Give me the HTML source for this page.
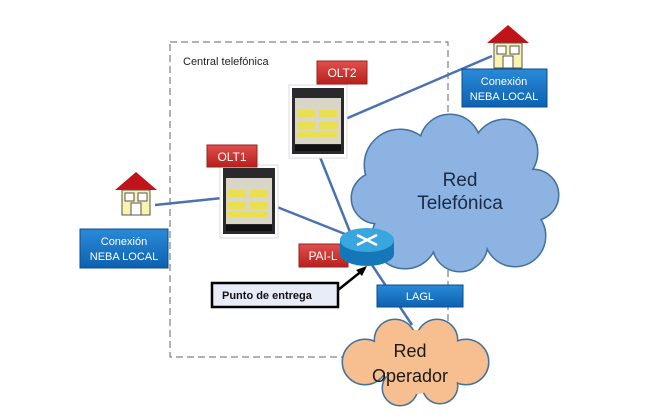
<!DOCTYPE html>
<html><head><meta charset="utf-8"><style>
html,body{margin:0;padding:0;background:#fff;}
svg{display:block;font-family:"Liberation Sans",sans-serif;}
</style></head><body>
<svg width="651" height="419" viewBox="0 0 651 419" xmlns="http://www.w3.org/2000/svg">
<defs>
<linearGradient id="red" x1="0" y1="0" x2="0" y2="1"><stop offset="0" stop-color="#e0504c"/><stop offset="1" stop-color="#b8201c"/></linearGradient>
<linearGradient id="blue" x1="0" y1="0" x2="0" y2="1"><stop offset="0" stop-color="#2a8ad8"/><stop offset="1" stop-color="#0d62b0"/></linearGradient>
<g id="olt">
<rect x="-3" y="-3" width="58" height="73" fill="#fff" stroke="#ddd"/>
<rect x="0" y="0" width="52" height="66" fill="#2a2a2e"/>
<rect x="3" y="10" width="46" height="46" fill="#d9d6c8"/>
<rect x="5" y="22" width="18" height="7" fill="#e8e050"/>
<rect x="27" y="22" width="18" height="7" fill="#e8e050"/>
<rect x="5" y="34" width="18" height="7" fill="#e8e050"/>
<rect x="27" y="34" width="18" height="7" fill="#e8e050"/>
<rect x="5" y="44" width="40" height="5" fill="#e8e050"/>
<rect x="3" y="57" width="46" height="6" fill="#111"/>
</g>
<g id="house">
<polygon points="0,18 21,0 42,18" fill="#c0141a"/>
<rect x="7" y="18" width="28" height="25" fill="#f8f4b0" stroke="#555"/>
<rect x="10" y="21" width="9" height="8" fill="#fff" stroke="#555"/>
<rect x="23" y="21" width="9" height="8" fill="#fff" stroke="#555"/>
<rect x="16" y="31" width="10" height="12" fill="#fff" stroke="#555"/>
</g>
</defs>

<rect x="170" y="42" width="278" height="315" fill="none" stroke="#666" stroke-dasharray="7,4" stroke-width="1"/>
<text x="183" y="65" font-size="11" fill="#222">Central telefónica</text>

<!-- clouds -->
<g fill="#8db3e2" stroke="#41719c" stroke-width="3">
<circle cx="400" cy="165" r="35"/><circle cx="450" cy="145" r="30"/><circle cx="505" cy="152" r="32"/><circle cx="533" cy="195" r="25"/><circle cx="515" cy="236" r="30"/><circle cx="460" cy="244" r="27"/><circle cx="405" cy="236" r="32"/><circle cx="377" cy="198" r="25"/>
</g>
<g fill="#8db3e2">
<circle cx="400" cy="165" r="35"/><circle cx="450" cy="145" r="30"/><circle cx="505" cy="152" r="32"/><circle cx="533" cy="195" r="25"/><circle cx="515" cy="236" r="30"/><circle cx="460" cy="244" r="27"/><circle cx="405" cy="236" r="32"/><circle cx="377" cy="198" r="25"/><circle cx="460" cy="195" r="55"/><circle cx="405" cy="200" r="32"/><circle cx="500" cy="200" r="40"/>
</g>
<text x="460" y="186" font-size="19" text-anchor="middle" fill="#1a2a44">Red</text>
<text x="460" y="209" font-size="19" text-anchor="middle" fill="#1a2a44">Telefónica</text>

<!-- lines -->
<g stroke="#4a72b0" stroke-width="2.5" fill="none">
<line x1="155" y1="205" x2="232" y2="197"/>
<line x1="272" y1="205" x2="350" y2="236"/>
<line x1="318" y1="152" x2="350" y2="232"/>
<line x1="343" y1="120" x2="492" y2="56"/>
<line x1="370" y1="262" x2="412" y2="325"/>
</g>

<g fill="#f7bf8f" stroke="#41719c" stroke-width="3">
<circle cx="365" cy="362" r="22"/><circle cx="395" cy="340" r="20"/><circle cx="437" cy="340" r="20"/><circle cx="466" cy="362" r="22"/><circle cx="440" cy="386" r="17"/><circle cx="400" cy="388" r="17"/>
</g>
<g fill="#f7bf8f">
<circle cx="365" cy="362" r="22"/><circle cx="395" cy="340" r="20"/><circle cx="437" cy="340" r="20"/><circle cx="466" cy="362" r="22"/><circle cx="440" cy="386" r="17"/><circle cx="400" cy="388" r="17"/><circle cx="415" cy="362" r="32"/>
</g>
<text x="410" y="357" font-size="18" text-anchor="middle" fill="#1a1a1a">Red</text>
<text x="410" y="382" font-size="18" text-anchor="middle" fill="#1a1a1a">Operador</text>

<use href="#olt" x="292" y="88"/>
<use href="#olt" x="223" y="168"/>
<use href="#house" x="115" y="172"/>
<use href="#house" x="487" y="25"/>

<rect x="317" y="61" width="50" height="23" fill="url(#red)" stroke="#922"/>
<text x="342" y="77" font-size="12" fill="#fff" text-anchor="middle">OLT2</text>
<rect x="207" y="145" width="50" height="22" fill="url(#red)" stroke="#922"/>
<text x="232" y="161" font-size="12" fill="#fff" text-anchor="middle">OLT1</text>
<rect x="299" y="244" width="49" height="23" fill="url(#red)" stroke="#922"/>
<text x="323" y="260" font-size="12" fill="#fff" text-anchor="middle">PAI-L</text>

<rect x="80" y="229" width="88" height="39" fill="url(#blue)" stroke="#0a4d8a"/>
<text x="124" y="245" font-size="11" fill="#fff" text-anchor="middle">Conexión</text>
<text x="124" y="260" font-size="11" fill="#fff" text-anchor="middle">NEBA LOCAL</text>
<rect x="462" y="69" width="85" height="38" fill="url(#blue)" stroke="#0a4d8a"/>
<text x="504" y="85" font-size="11" fill="#fff" text-anchor="middle">Conexión</text>
<text x="504" y="100" font-size="11" fill="#fff" text-anchor="middle">NEBA LOCAL</text>
<rect x="377" y="285" width="86" height="22" fill="url(#blue)" stroke="#0a4d8a"/>
<text x="420" y="300" font-size="11" fill="#fff" text-anchor="middle">LAGL</text>

<!-- router -->
<path d="M340,240 L340,254 A27,12 0 0 0 394,254 L394,240 Z" fill="#1478b8"/>
<ellipse cx="367" cy="240" rx="27" ry="12" fill="#3aa6e0"/>
<g stroke="#fff" stroke-width="2.5">
<line x1="357" y1="235" x2="377" y2="245"/><line x1="357" y1="245" x2="377" y2="235"/>
</g>

<rect x="212" y="283" width="126" height="24" fill="#e8ecf8" stroke="#000" stroke-width="2.5"/>
<text x="222" y="299" font-size="11" font-weight="bold" fill="#111">Punto de entrega</text>
<line x1="338" y1="290" x2="363" y2="270" stroke="#000" stroke-width="2.5"/>
<polygon points="367,266 356,270 362,276" fill="#000"/>
</svg>
</body></html>
